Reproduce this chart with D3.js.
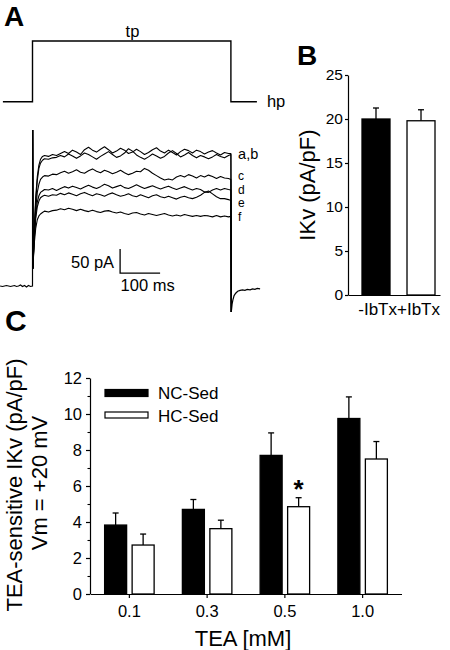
<!DOCTYPE html>
<html><head><meta charset="utf-8">
<script src="https://cdn.jsdelivr.net/npm/d3@7"></script>
<style>
html,body{margin:0;padding:0;background:#fff;}
svg{display:block;font-family:"Liberation Sans",Arial,Helvetica,sans-serif;}
</style></head><body>
<svg id="chart" width="450" height="650"></svg>
<script>
// ---------- Panel A data ----------
const protocolTimes = [-74, 0, 496, 561];          // ms
const protocolLevels = [-80, 20, -80, -80];        // mV (hp -> tp -> hp)
const preTimes = [-81,-75,-70,-65,-60,-55,-50,-45,-40,-35,-30,-25,-20,-15,-10,-5,0,0.3,1];
const preCurrents = [0,-1,0,1,0,-1,0,1,-1,0,2,-1,1,-2,1,-1,0,325,37];
const traceTimes = [1,4,8,12,16,20,25,30,40,50,
  60,70,80,90,100,110,120,130,140,150,160,170,180,190,200,210,220,230,240,250,
  260,270,280,290,300,310,320,330,340,350,360,370,380,390,400,410,420,430,440,450,
  460,470,480,490,496];
const traceA = [37,115,185,228,252,264,270,272,270,274,
  272,276,280,276,283,279,274,284,289,283,279,285,290,284,277,281,287,283,276,279,
  285,280,274,278,284,288,281,277,283,278,273,280,285,282,277,283,280,275,279,282,
  277,273,278,276,276];
const traceB = [37,105,175,220,245,256,262,265,264,267,
  268,272,269,275,271,266,271,277,274,269,264,270,275,280,274,268,271,277,286,281,
  273,268,264,269,275,271,266,270,277,282,276,269,273,278,272,267,272,269,265,269,
  274,270,267,272,274];
const traceC = [37,100,160,195,212,222,227,230,229,233,
  232,236,239,235,238,242,237,235,240,244,239,236,241,238,234,237,241,236,232,235,
  239,238,245,241,235,230,225,221,223,221,227,230,227,232,229,225,230,227,231,228,
  224,228,225,224,222];
const traceD = [37,95,148,175,188,195,198,201,200,203,
  199,203,207,204,208,205,202,206,210,206,203,207,212,209,204,207,210,205,203,207,
  211,207,203,206,209,205,202,205,208,204,201,204,207,203,200,203,201,196,195,200,
  203,200,203,201,200];
const traceE = [37,92,140,165,177,184,187,189,187,190,
  189,193,190,194,191,188,192,195,191,188,192,190,187,191,194,190,187,189,192,188,
  186,190,187,184,188,190,186,184,187,184,181,185,187,184,182,185,189,195,198,192,
  186,182,182,180,178];
const traceF = [37,85,120,138,146,150,153,156,154,157,
  158,161,159,162,160,157,160,157,155,158,155,153,156,157,154,152,154,151,149,152,
  153,150,148,151,149,147,149,151,148,146,148,146,149,147,145,147,145,147,146,144,
  147,144,146,144,145];
const tailTimes = [496,497,499,501,504,508,513,519,525,531,537,544,550,556,562,569];
const tailCurrents = [0,-54,-38,-29,-20,-15,-11,-9,-8,-9,-7,-8,-6,-7,-5,-6];
const traceLabels = ["a,b","c","d","e","f"];

// ---------- Panel B data ----------
const bCategories = ["-IbTx","+IbTx"];
const bValues = [20.0, 19.8];
const bErrors = [1.25, 1.25];
const bTicks = [0,5,10,15,20,25];

// ---------- Panel C data ----------
const cCategories = ["0.1","0.3","0.5","1.0"];
const seriesNames = ["NC-Sed","HC-Sed"];
const ncValues = [3.83, 4.70, 7.70, 9.75];
const ncErrors = [0.67, 0.55, 1.25, 1.20];
const hcValues = [2.72, 3.63, 4.85, 7.50];
const hcErrors = [0.61, 0.47, 0.50, 0.97];
const cMajorTicks = [0,2,4,6,8,10,12];
const cMinorTicks = [1,3,5,7,9,11];
const significant = [false,false,true,false];

const svg = d3.select("#chart");
const SW = 1.3;

// ================= Panel A =================
const xA = d3.scaleLinear().domain([0,100]).range([32.5,72.5]);
const yV = d3.scaleLinear().domain([-80,20]).range([101.7,41]);
const yI = d3.scaleLinear().domain([0,50]).range([286,262]);

const gA = svg.append("g");
gA.append("text").attr("x",4).attr("y",26).attr("font-size",28).attr("font-weight","bold").text("A");

const protoLine = d3.line().x(d=>xA(d[0])).y(d=>yV(d[1])).curve(d3.curveStepAfter);
gA.append("path").datum(d3.zip(protocolTimes, protocolLevels))
  .attr("d", protoLine).attr("fill","none").attr("stroke","#000").attr("stroke-width",1.4);
gA.append("text").attr("x",xA(250)).attr("y",36.5).attr("text-anchor","middle")
  .attr("font-size",16.5).text("tp");
gA.append("text").attr("x",xA(586)).attr("y",107).attr("font-size",16.5).text("hp");

const iLine = d3.line().x(d=>xA(d[0])).y(d=>yI(d[1]));
const traces = [traceA, traceB, traceC, traceD, traceE, traceF];
gA.append("path").datum(d3.zip(preTimes, preCurrents))
  .attr("d", iLine).attr("fill","none").attr("stroke","#000").attr("stroke-width",1.2);
traces.forEach(tr=>{
  const pts = [[0.3,325]].concat(d3.zip(traceTimes, tr));
  pts.push([497,-54]);
  gA.append("path").datum(pts).attr("d", iLine)
    .attr("fill","none").attr("stroke","#000").attr("stroke-width",1.1).attr("stroke-linejoin","round");
});
gA.append("path").datum(d3.zip(tailTimes.slice(1), tailCurrents.slice(1)))
  .attr("d", iLine).attr("fill","none").attr("stroke","#000").attr("stroke-width",1.2);

// trace labels
const labelY = [159, 180, 193.5, 207, 220.5];
const labelSize = [14.5, 12, 12, 12, 12];
traceLabels.forEach((l,i)=>{
  gA.append("text").attr("x",xA(514)).attr("y",labelY[i]).attr("font-size",labelSize[i]).text(l);
});

// scale bar
const sbT = 219, sbI = 27;
gA.append("path")
  .attr("d", `M${xA(sbT)},${yI(sbI+50)}V${yI(sbI)}H${xA(sbT+100)}`)
  .attr("fill","none").attr("stroke","#000").attr("stroke-width",1.3);
gA.append("text").attr("x",xA(sbT)-6).attr("y",268).attr("text-anchor","end").attr("font-size",16.5).text("50 pA");
gA.append("text").attr("x",xA(sbT)+0.5).attr("y",291).attr("font-size",16.5).text("100 ms");

// ================= Panel B =================
const gB = svg.append("g");
gB.append("text").attr("x",297).attr("y",65).attr("font-size",28).attr("font-weight","bold").text("B");
const xB = d3.scaleBand().domain(bCategories).range([348,440])
  .paddingInner(0.378).paddingOuter(0.211).align(0.737);
const yB = d3.scaleLinear().domain([0,25]).range([295,75]);

const axBy = gB.append("g").attr("transform","translate(348,0)")
  .call(d3.axisLeft(yB).tickValues(bTicks).tickSize(3).tickSizeOuter(0).tickPadding(2));
axBy.selectAll("text").attr("font-size",15.5).attr("font-family","Liberation Sans, Arial, sans-serif");
axBy.selectAll("line,path").attr("stroke-width",1.2);
const axBx = gB.append("g").attr("transform","translate(0,295)")
  .call(d3.axisBottom(xB).tickSize(0).tickSizeOuter(0).tickPadding(8));
axBx.selectAll("text").attr("font-size",17).attr("font-family","Liberation Sans, Arial, sans-serif")
  .attr("text-anchor",(d,i)=> i===0 ? "end" : "start")
  .attr("x",(d,i)=> i===0 ? 21 : -24);
axBx.selectAll("path").attr("stroke-width",1.2);

bCategories.forEach((c,i)=>{
  const x = xB(c), w = xB.bandwidth(), cx = x + w/2;
  gB.append("line").attr("x1",cx).attr("x2",cx).attr("y1",yB(bValues[i])).attr("y2",yB(bValues[i]+bErrors[i]))
    .attr("stroke","#000").attr("stroke-width",SW);
  gB.append("line").attr("x1",cx-3).attr("x2",cx+3).attr("y1",yB(bValues[i]+bErrors[i])).attr("y2",yB(bValues[i]+bErrors[i]))
    .attr("stroke","#000").attr("stroke-width",SW);
  gB.append("rect").attr("x",x).attr("y",yB(bValues[i])).attr("width",w).attr("height",yB(0)-yB(bValues[i]))
    .attr("fill", i===0 ? "#000" : "#fff").attr("stroke","#000").attr("stroke-width",SW);
});
gB.append("text").attr("transform","translate(315,185) rotate(-90)").attr("text-anchor","middle")
  .attr("font-size",22).text("IKv (pA/pF)");

// ================= Panel C =================
const gC = svg.append("g");
gC.append("text").attr("x",5).attr("y",331).attr("font-size",30).attr("font-weight","bold").text("C");
const xC = d3.scaleBand().domain(cCategories).range([90.5,401.5]);
const xInner = d3.scaleBand().domain(seriesNames).range([-24.75,24.75]).paddingInner(0.2);
const yC = d3.scaleLinear().domain([0,12]).range([594,378]);

const axCy = gC.append("g").attr("transform","translate(90,0)")
  .call(d3.axisLeft(yC).tickValues(cMajorTicks).tickSize(4).tickSizeOuter(0).tickPadding(4).tickFormat(d3.format("d")));
axCy.selectAll("text").attr("font-size",16.5).attr("font-family","Liberation Sans, Arial, sans-serif");
axCy.selectAll("line,path").attr("stroke-width",1.2);
const axCyMinor = gC.append("g").attr("transform","translate(90,0)")
  .call(d3.axisLeft(yC).tickValues(cMinorTicks).tickSize(2.5).tickFormat(""));
axCyMinor.select(".domain").remove();
axCyMinor.selectAll("line").attr("stroke-width",1.1);
const axCx = gC.append("g").attr("transform","translate(0,594)")
  .call(d3.axisBottom(xC).tickSize(4).tickSizeOuter(0).tickPadding(7));
axCx.selectAll("text").attr("font-size",16.5).attr("font-family","Liberation Sans, Arial, sans-serif");
axCx.selectAll("line,path").attr("stroke-width",1.2);

const seriesVals = [ncValues, hcValues];
const seriesErrs = [ncErrors, hcErrors];
cCategories.forEach((c,ci)=>{
  seriesNames.forEach((s,si)=>{
    const v = seriesVals[si][ci], e = seriesErrs[si][ci];
    const x = xC(c) + xC.bandwidth()/2 + xInner(s), w = xInner.bandwidth(), cx = x + w/2;
    gC.append("line").attr("x1",cx).attr("x2",cx).attr("y1",yC(v)).attr("y2",yC(v+e))
      .attr("stroke","#000").attr("stroke-width",SW);
    gC.append("line").attr("x1",cx-3).attr("x2",cx+3).attr("y1",yC(v+e)).attr("y2",yC(v+e))
      .attr("stroke","#000").attr("stroke-width",SW);
    gC.append("rect").attr("x",x).attr("y",yC(v)).attr("width",w).attr("height",yC(0)-yC(v))
      .attr("fill", si===0 ? "#000" : "#fff").attr("stroke","#000").attr("stroke-width",SW);
    if (si===1 && significant[ci]) {
      gC.append("text").attr("x",cx).attr("y",yC(v+e)).attr("text-anchor","middle")
        .attr("font-size",26).attr("font-weight","bold").text("*");
    }
  });
});

// legend
seriesNames.forEach((s,i)=>{
  const yy = [389.5, 412][i];
  gC.append("rect").attr("x",105).attr("y",yy).attr("width",43).attr("height",i===0?7:6)
    .attr("fill", i===0 ? "#000" : "#fff").attr("stroke","#000").attr("stroke-width",1.2);
  gC.append("text").attr("x",158).attr("y",[399,421.5][i]).attr("font-size",17).text(s);
});

// axis labels
gC.append("text").attr("transform","translate(22,485) rotate(-90)").attr("text-anchor","middle")
  .attr("font-size",22).text("TEA-sensitive IKv (pA/pF)");
gC.append("text").attr("transform","translate(47,483) rotate(-90)").attr("text-anchor","middle")
  .attr("font-size",22).text("Vm = +20 mV");
gC.append("text").attr("x",243).attr("y",645.5).attr("text-anchor","middle").attr("font-size",22).text("TEA [mM]");
</script>
</body></html>
